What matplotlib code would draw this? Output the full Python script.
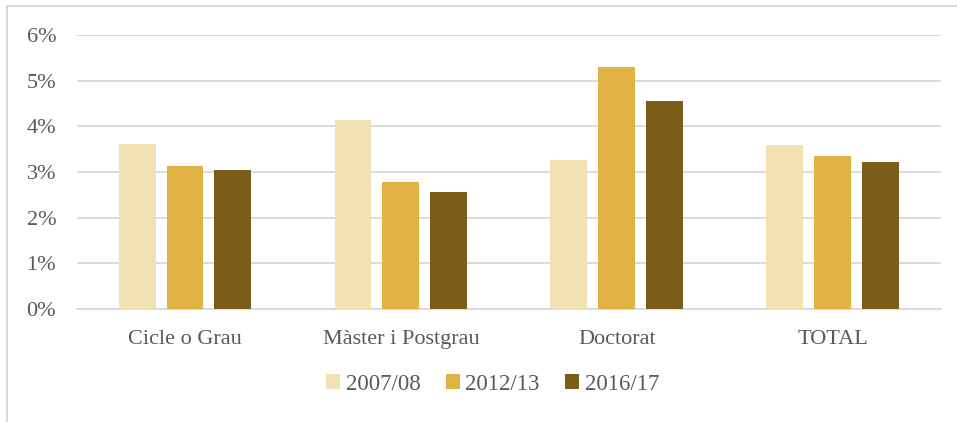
import numpy as np
import matplotlib
matplotlib.use("Agg")
import matplotlib.pyplot as plt
from matplotlib.lines import Line2D
from matplotlib.ticker import FuncFormatter

# ---- Data ----
CATEGORIES = ["Cicle o Grau", "Màster i Postgrau", "Doctorat", "TOTAL"]
SERIES = ["2007/08", "2012/13", "2016/17"]
VAL_2007 = [3.62, 4.13, 3.27, 3.60]
VAL_2012 = [3.14, 2.77, 5.30, 3.36]
VAL_2016 = [3.05, 2.56, 4.56, 3.22]
COLORS = ["#F2E1B2", "#E0B342", "#7B5C18"]
TEXT_COLOR = "#595959"
GRID_COLOR = "#D9D9D9"

plt.rcParams["font.family"] = ["Liberation Serif", "DejaVu Serif"]


def main():
    fig = plt.figure(figsize=(9.57, 4.22), dpi=100)
    ax = fig.add_axes([0.0805, 0.2678, 0.9025, 0.6493])

    x = np.arange(len(CATEGORIES))
    width = 0.171
    step = 0.222
    for i, (vals, name) in enumerate(zip([VAL_2007, VAL_2012, VAL_2016], SERIES)):
        ax.bar(x + (i - 1) * step, vals, width=width, color=COLORS[i],
               label=name, zorder=3)

    ax.set_xlim(-0.5, len(CATEGORIES) - 0.5)
    ax.set_ylim(0, 6)
    ax.set_yticks(np.arange(0, 7, 1))
    ax.yaxis.set_major_formatter(FuncFormatter(lambda v, p: f"{v:.0f}%"))
    ax.set_xticks(x)
    ax.set_xticklabels(CATEGORIES)

    ax.grid(axis="y", color=GRID_COLOR, linewidth=1.3, zorder=0)
    for side in ["top", "right", "left"]:
        ax.spines[side].set_visible(False)
    ax.spines["bottom"].set_color(GRID_COLOR)
    ax.spines["bottom"].set_linewidth(1.3)
    ax.tick_params(axis="both", length=0, labelsize=16, labelcolor=TEXT_COLOR)
    ax.tick_params(axis="x", pad=15)
    ax.tick_params(axis="y", pad=15)

    fig.legend(loc="center", bbox_to_anchor=(0.5146, 1 - 384 / 422), ncol=3,
               frameon=False, fontsize=16.5, handlelength=0.62, handleheight=0.62,
               handletextpad=0.25, columnspacing=1.1, labelcolor=TEXT_COLOR)

    # outer frame (top and left edges)
    fig.add_artist(Line2D([7.5 / 957, 1], [1 - 6 / 422, 1 - 6 / 422],
                          transform=fig.transFigure, color=GRID_COLOR, linewidth=1.5))
    fig.add_artist(Line2D([7.5 / 957, 7.5 / 957], [0, 1 - 6 / 422],
                          transform=fig.transFigure, color=GRID_COLOR, linewidth=1.5))

    fig.savefig("out.png", dpi=100)


if __name__ == "__main__":
    main()
